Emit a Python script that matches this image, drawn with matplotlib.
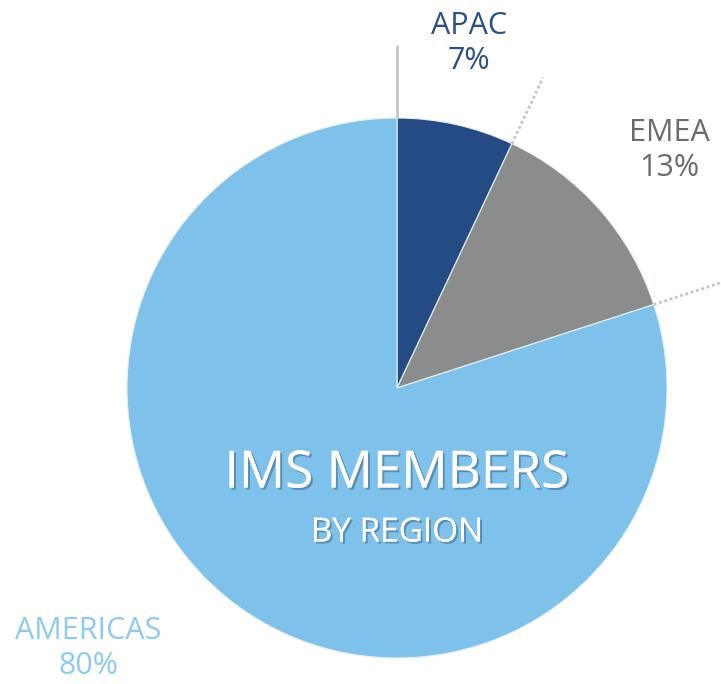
import numpy as np
import matplotlib.pyplot as plt
import matplotlib.patheffects as pe

plt.rcParams['font.family'] = ['Open Sans', 'DejaVu Sans']

regions = ['APAC', 'EMEA', 'AMERICAS']
shares = [7, 13, 80]
colors = ['#244b83', '#8b8c8c', '#7ec1eb']
label_colors = ['#2c4f85', '#6b6b6b', '#8ccbef']

fig = plt.figure(figsize=(7.21, 6.84), dpi=100)
ax = fig.add_axes([0, 0, 1, 1])

cx, cy, r = 397, 296, 270
ax.pie(shares, colors=colors, startangle=90, counterclock=False,
       center=(cx, cy), radius=r, frame=True,
       wedgeprops=dict(edgecolor='#e8f0f5', linewidth=0.8))
ax.set_xlim(0, 721)
ax.set_ylim(0, 684)
ax.set_aspect('equal')
ax.axis('off')

# leader lines along the wedge boundaries
bounds = 90 - 360 * np.cumsum([0] + shares[:-1]) / sum(shares)
styles = ['-', (0, (1, 1)), (0, (1, 1))]
for ang, ls in zip(bounds, styles):
    a = np.deg2rad(ang)
    ax.plot([cx + r * np.cos(a), cx + 1.27 * r * np.cos(a)],
            [cy + r * np.sin(a), cy + 1.27 * r * np.sin(a)],
            color='#c4c4c4', lw=2, ls=ls, solid_capstyle='butt')

# region labels
label_pos = [(469, 640), (669, 533), (88, 35)]
for name, pct, (x, y), c in zip(regions, shares, label_pos, label_colors):
    ax.text(x, y + 18, name, color=c, fontsize=22, ha='center', va='center')
    ax.text(x, y - 17, f'{pct}%', color=c, fontsize=22, ha='center', va='center')

shadow = [pe.withSimplePatchShadow(offset=(1.5, -1.5), shadow_rgbFace='#3d6f93', alpha=0.6),
          pe.Normal()]
ax.text(397, 210, 'IMS MEMBERS', color='white', fontsize=37, ha='center',
        va='center', path_effects=shadow)
ax.text(397, 151, 'BY REGION', color='white', fontsize=24, ha='center',
        va='center', path_effects=shadow)

fig.savefig('out.png', dpi=100)
